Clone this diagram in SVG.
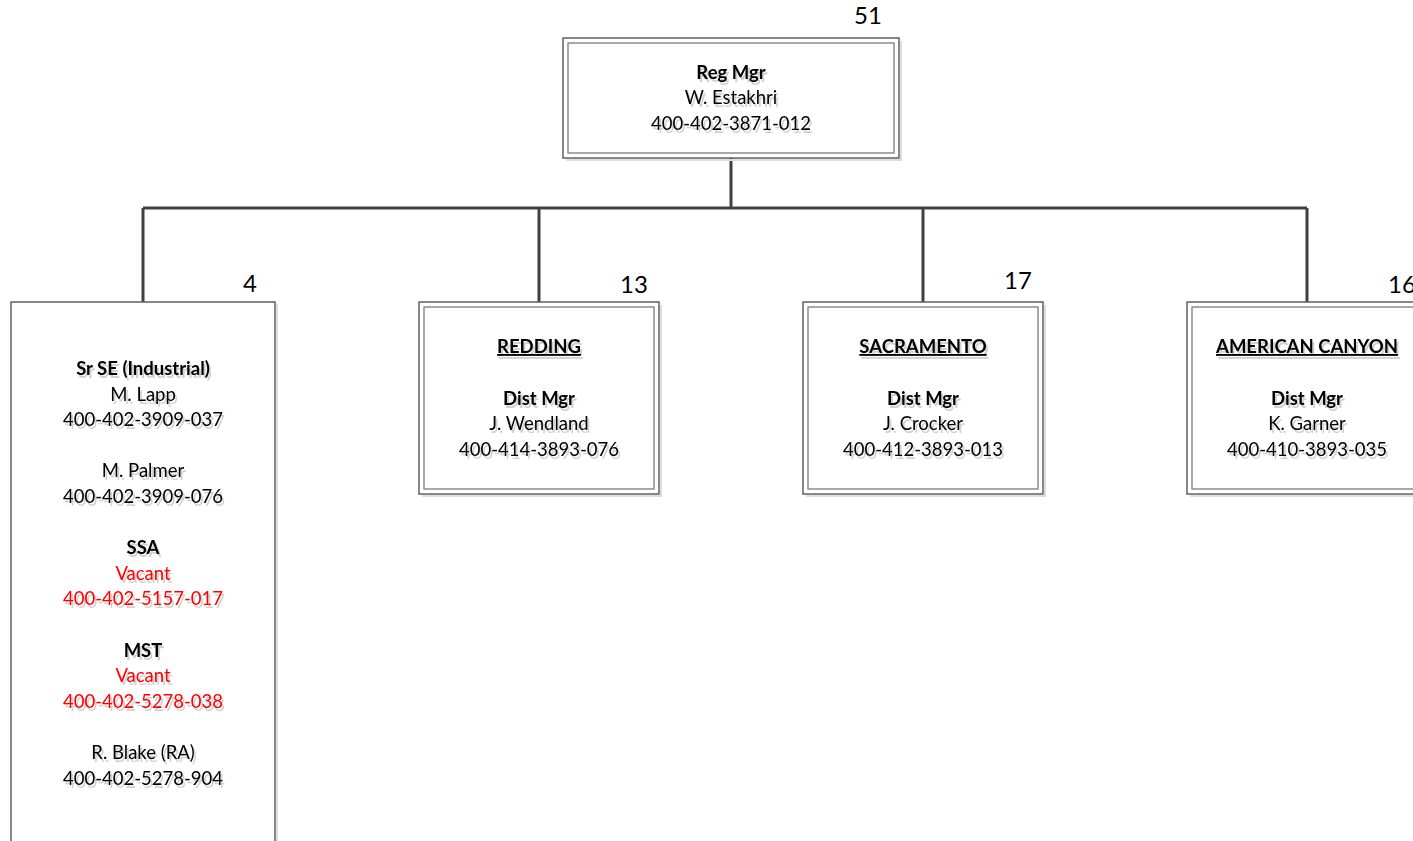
<svg xmlns="http://www.w3.org/2000/svg" width="1413" height="841" viewBox="0 0 1413 841">
<defs>
<filter id="sh" x="-10%" y="-30%" width="130%" height="180%">
<feDropShadow dx="2" dy="3" stdDeviation="0.6" flood-color="#000" flood-opacity="0.18"/>
</filter>
</defs>
<style>
text{font-family:"Lato","Liberation Sans",sans-serif;font-size:18.5px;fill:#000;text-anchor:middle;}
.t{filter:url(#sh);}
.b{font-weight:bold;}
.u{text-decoration:underline;}
.r{fill:#f00;}
.n{font-size:24px;}
.o{fill:#fff;stroke:#606060;stroke-width:1.5;}
.i{fill:none;stroke:#707070;stroke-width:1.2;}
.s{fill:none;stroke:#ddd;stroke-width:2;}
.c{fill:none;stroke:#404040;stroke-width:3;}
</style>
<g id="connectors">
<path class="c" d="M731,158V208M143,208H1307M143,208V302M539,208V302M923,208V302M1307,208V302"/>
</g>
<g id="reg-mgr">
<path class="s" d="M566,160H901V41"/>
<rect class="o" x="563" y="38" width="336" height="120"/>
<rect class="i" x="568" y="43" width="326" height="110"/>
<text class="n" x="868" y="24">51</text>
<g class="t">
<text class="b" x="731" y="79">Reg Mgr</text>
<text x="731" y="104">W. Estakhri</text>
<text x="731" y="130">400-402-3871-012</text>
</g>
</g>
<g id="staff">
<path class="s" d="M277,304V841"/>
<rect class="o" x="11" y="302" width="264" height="560"/>
<text class="n" x="250" y="292">4</text>
<g class="t">
<text class="b" x="143" y="375">Sr SE (Industrial)</text>
<text x="143" y="401">M. Lapp</text>
<text x="143" y="426">400-402-3909-037</text>
<text x="143" y="477">M. Palmer</text>
<text x="143" y="503">400-402-3909-076</text>
<text class="b" x="143" y="554">SSA</text>
<text class="r" x="143" y="580">Vacant</text>
<text class="r" x="143" y="605">400-402-5157-017</text>
<text class="b" x="143" y="657">MST</text>
<text class="r" x="143" y="682">Vacant</text>
<text class="r" x="143" y="708">400-402-5278-038</text>
<text x="143" y="759">R. Blake (RA)</text>
<text x="143" y="785">400-402-5278-904</text>
</g>
</g>
<g id="redding">
<path class="s" d="M422,496H661V305"/>
<rect class="o" x="419" y="302" width="240" height="192"/>
<rect class="i" x="424" y="307" width="230" height="182"/>
<text class="n" x="634" y="293">13</text>
<g class="t">
<text class="b u" x="539" y="353">REDDING</text>
<text class="b" x="539" y="405">Dist Mgr</text>
<text x="539" y="430">J. Wendland</text>
<text x="539" y="456">400-414-3893-076</text>
</g>
</g>
<g id="sacramento">
<path class="s" d="M806,496H1045V305"/>
<rect class="o" x="803" y="302" width="240" height="192"/>
<rect class="i" x="808" y="307" width="230" height="182"/>
<text class="n" x="1018" y="289">17</text>
<g class="t">
<text class="b u" x="923" y="353">SACRAMENTO</text>
<text class="b" x="923" y="405">Dist Mgr</text>
<text x="923" y="430">J. Crocker</text>
<text x="923" y="456">400-412-3893-013</text>
</g>
</g>
<g id="american-canyon">
<path class="s" d="M1190,496H1429V305"/>
<rect class="o" x="1187" y="302" width="240" height="192"/>
<rect class="i" x="1192" y="307" width="230" height="182"/>
<text class="n" x="1402" y="293">16</text>
<g class="t">
<text class="b u" x="1307" y="353">AMERICAN CANYON</text>
<text class="b" x="1307" y="405">Dist Mgr</text>
<text x="1307" y="430">K. Garner</text>
<text x="1307" y="456">400-410-3893-035</text>
</g>
</g>
</svg>
